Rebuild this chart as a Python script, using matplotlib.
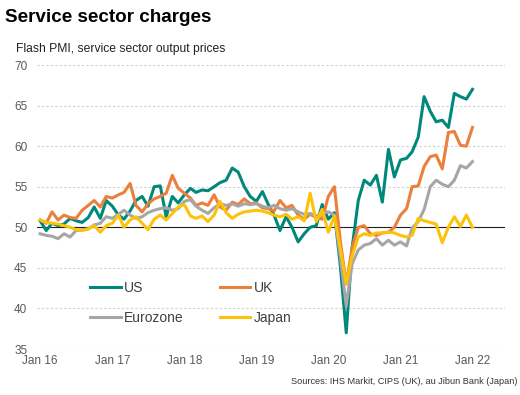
import matplotlib
matplotlib.use("Agg")
import matplotlib.pyplot as plt
import matplotlib.dates as mdates
import pandas as pd

plt.rcParams['font.family'] = ['Liberation Sans', 'DejaVu Sans']

months = pd.date_range("2016-01-01", periods=73, freq="MS")

us = [50.8, 49.6, 50.5, 50.2, 50.4, 51.1, 50.8, 50.6, 51.2, 52.5, 51.1, 53.3,
      52.6, 51.5, 51.0, 52.0, 53.3, 53.8, 52.6, 55.0, 55.1, 51.3, 53.8, 53.0,
      54.0, 54.8, 54.3, 54.6, 54.5, 55.0, 55.5, 55.8, 57.3, 56.8, 55.0, 53.8,
      53.2, 54.4, 52.9, 51.5, 49.6, 51.3, 50.0, 48.2, 49.2, 50.0, 50.2, 52.8,
      51.0, 51.8, 45.5, 37.0, 47.5, 53.3, 55.8, 55.2, 56.4, 53.1, 59.6, 56.2,
      58.3, 58.5, 59.3, 61.1, 66.1, 64.3, 63.0, 63.2, 62.3, 66.5, 66.1, 65.8,
      67.0]
uk = [50.9, 50.5, 51.9, 50.9, 51.5, 51.2, 51.1, 52.1, 52.7, 53.3, 52.5, 53.8,
      53.6, 54.0, 54.3, 55.4, 52.7, 51.9, 52.9, 53.5, 53.8, 54.2, 56.4, 54.8,
      54.2, 53.6, 52.7, 53.0, 52.7, 54.0, 52.5, 52.1, 53.1, 52.8, 53.5, 52.9,
      53.0, 52.4, 52.3, 52.0, 53.3, 52.4, 52.7, 51.5, 51.0, 51.6, 51.2, 51.0,
      53.8, 55.0, 48.5, 43.0, 47.5, 50.0, 50.2, 49.2, 49.0, 49.3, 49.4, 50.0,
      51.5, 52.3, 55.0, 55.1, 57.5, 58.7, 58.9, 57.2, 61.7, 61.8, 60.1, 60.0,
      62.3]
eurozone = [49.2, 49.0, 48.9, 48.6, 49.2, 48.8, 49.6, 49.7, 49.8, 50.3, 50.5, 51.3,
            51.1, 51.6, 52.1, 51.5, 51.1, 51.3, 51.8, 52.1, 52.3, 52.4, 52.1, 52.3,
            53.2, 53.4, 52.6, 52.1, 51.7, 52.4, 52.9, 52.7, 52.9, 52.6, 52.9, 52.8,
            52.9, 52.6, 52.4, 52.7, 52.3, 52.1, 52.3, 51.9, 51.6, 51.7, 51.4, 51.7,
            51.9, 51.5, 46.5, 40.3, 45.5, 47.2, 47.8, 48.0, 48.6, 47.8, 48.4, 47.8,
            48.2, 47.7, 49.9, 50.7, 52.2, 55.0, 55.8, 55.3, 55.0, 55.8, 57.6, 57.3,
            58.1]
japan = [50.9, 50.6, 50.5, 50.4, 50.2, 50.0, 49.7, 49.6, 49.8, 50.2, 49.4, 50.2,
         50.5, 51.5, 50.0, 50.9, 51.3, 50.5, 49.7, 51.0, 51.5, 50.9, 51.7, 52.5,
         52.8, 51.4, 51.1, 51.4, 50.7, 51.5, 53.2, 51.8, 51.1, 51.6, 51.9, 52.0,
         52.1, 52.0, 51.8, 51.5, 51.3, 51.6, 51.0, 51.3, 50.8, 54.2, 50.7, 52.2,
         49.4, 51.4, 47.5, 43.0, 46.5, 48.8, 49.2, 49.0, 49.3, 49.3, 49.4, 49.3,
         49.0, 48.8, 49.0, 51.1, 50.8, 50.6, 50.4, 48.1, 50.0, 51.3, 50.1, 51.5,
         50.0]

series = [("US", us, "#00897b"), ("UK", uk, "#eb7f3c"),
          ("Eurozone", eurozone, "#a6a6a6"), ("Japan", japan, "#fcc30a")]

fig = plt.figure(figsize=(5.2, 3.95), dpi=100)
ax = fig.add_axes([37 / 520, 46 / 395, 468 / 520, 284 / 395])

lines = {}
for name, vals, col in series:
    lines[name], = ax.plot(months, vals, color=col, lw=2.2, label=name)

ax.set_ylim(35, 70)
ax.set_xlim(pd.Timestamp("2015-12-16"), pd.Timestamp("2022-06-15"))
ax.set_yticks(range(35, 71, 5))
ax.set_xticks(pd.date_range("2016-01-01", "2022-01-01", freq="YS"))
ax.xaxis.set_major_formatter(mdates.DateFormatter("%b %y"))
ax.tick_params(length=0, labelsize=8.5, labelcolor="#595959", pad=4)
ax.tick_params(axis="y", pad=7)
for s in ax.spines.values():
    s.set_visible(False)
ax.grid(axis="y", color="#d0d0d0", lw=0.8, ls=(0, (2, 2)))
ax.set_axisbelow(True)
ax.axhline(50, color="#222222", lw=0.8, zorder=1.5)

order = ["US", "Eurozone", "UK", "Japan"]
ax.legend([lines[n] for n in order], order, ncol=2, frameon=False,
          fontsize=10, handlelength=2.2, handletextpad=0.25,
          columnspacing=2.6, labelspacing=1.15, labelcolor="#404040",
          loc="upper left", bbox_to_anchor=(90 / 520, 1 - 281 / 395),
          bbox_transform=fig.transFigure, borderaxespad=0, borderpad=0)

fig.text(5 / 520, 1 - 17 / 395, "Service sector charges", fontsize=13.6,
         fontweight="bold", va="center", ha="left")
fig.text(16 / 520, 1 - 49 / 395, "Flash PMI, service sector output prices",
         fontsize=8.7, va="center", ha="left", color="#222222")
fig.text(517 / 520, 1 - 382 / 395,
         "Sources: IHS Markit, CIPS (UK), au Jibun Bank (Japan)",
         fontsize=6.6, va="center", ha="right", color="#333333")

fig.savefig("out.png", dpi=100)
